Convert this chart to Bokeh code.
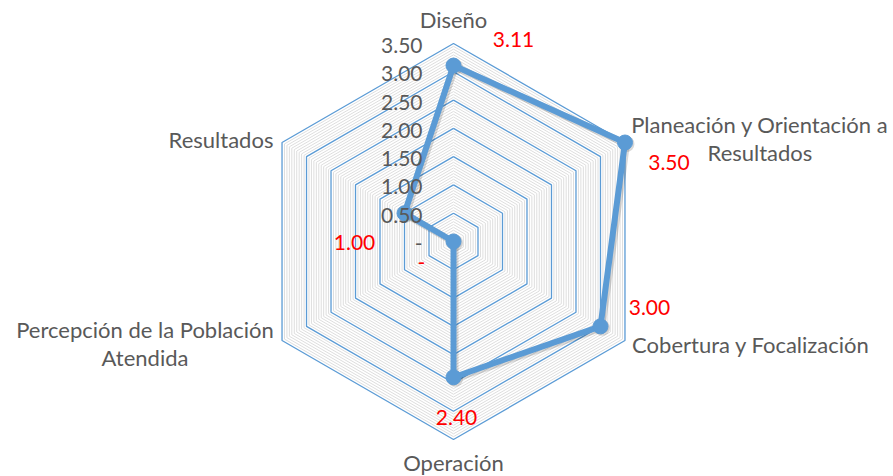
import numpy as np
from bokeh.plotting import figure
from bokeh.models import Range1d
from bokeh.core.properties import value
from bokeh.embed import file_html
from bokeh.resources import INLINE

# ---- data ----
categories = ["Diseño", "Planeación y Orientación a\nResultados", "Cobertura y Focalización",
              "Operación", "Percepción de la Población\nAtendida", "Resultados"]
scores = [3.11, 3.50, 3.00, 2.40, 0.00, 1.00]
tick_values = [0.0, 0.5, 1.0, 1.5, 2.0, 2.5, 3.0, 3.5]
tick_labels = ["-", "0.50", "1.00", "1.50", "2.00", "2.50", "3.00", "3.50"]
r_max = 3.5
major_step = 0.5
minor_step = 0.05

# ---- layout / style constants ----
W, H = 893, 476
S = 198 / r_max            # pixels per unit of score
CX, CY = 453, 241          # chart centre in frame pixels (from left/top)
FONT = "Lato"
BLUE = "#5B9BD5"
GRAY_TXT = "#595959"

# pixel offsets (dx right, dy down) of data labels from their points
data_label_off = [(60, -26), (44, 20), (49, -19), (3, 40), (-32, 21), (-50, 29)]
# pixel offsets of category labels from outer vertex
cat_label_off = [(0, -24), (135, -4), (126, 4), (0, 23), (-137, 3), (-61, -3)]

n = len(categories)
ang = np.deg2rad(90 - 60 * np.arange(n))
ux, uy = np.cos(ang), np.sin(ang)

p = figure(width=W, height=H, output_backend="svg", toolbar_location=None,
           x_range=Range1d(-CX / S, (W - CX) / S), y_range=Range1d(-(H - CY) / S, CY / S),
           x_axis_location=None, y_axis_location=None, min_border=0)
p.grid.visible = False
p.outline_line_color = None
p.background_fill_color = "white"
p.border_fill_color = "white"

def hexagon(r):
    return list(np.append(r * ux, r * ux[0])), list(np.append(r * uy, r * uy[0]))

# minor grid
mxs, mys = [], []
k = 1
while k * minor_step < r_max - 1e-9:
    r = k * minor_step
    if abs(r / major_step - round(r / major_step)) > 1e-6:
        x, y = hexagon(r)
        mxs.append(x); mys.append(y)
    k += 1
p.multi_line(mxs, mys, line_color="#DEDEDE", line_width=1)

# major grid
Mxs, Mys = [], []
for t in tick_values[1:]:
    x, y = hexagon(t)
    Mxs.append(x); Mys.append(y)
p.multi_line(Mxs, Mys, line_color=BLUE, line_width=1.3)

# series
vals = np.array(scores)
px, py = vals * ux, vals * uy
sx, sy = list(np.append(px, px[0])), list(np.append(py, py[0]))
p.line([v + 1.5 / S for v in sx], [v - 1.5 / S for v in sy], line_color="black",
       line_alpha=0.15, line_width=7, line_join="round")
p.scatter(px + 1.5 / S, py - 1.5 / S, size=16, fill_color="black", fill_alpha=0.15, line_color=None)
p.line(sx, sy, line_color=BLUE, line_width=6, line_join="round")
p.scatter(px, py, size=15, fill_color=BLUE, line_color=BLUE)

# radial tick labels
p.text(x=[-31 / S] * len(tick_values), y=[t - 2 / S for t in tick_values], text=tick_labels,
       text_align="right", text_baseline="middle", text_font=value(FONT),
       text_font_size="21px", text_color=GRAY_TXT)

# data labels
dl_text = ["-" if v == 0 else f"{v:.2f}" for v in scores]
dlx = [px[i] + data_label_off[i][0] / S for i in range(n)]
dly = [py[i] - data_label_off[i][1] / S for i in range(n)]
p.text(x=dlx, y=dly, text=dl_text, text_align="center", text_baseline="middle",
       text_font=value(FONT), text_font_size="21px", text_color="#FF0000")

# category labels
clx = [r_max * ux[i] + cat_label_off[i][0] / S for i in range(n)]
cly = [r_max * uy[i] - cat_label_off[i][1] / S for i in range(n)]
p.text(x=clx, y=cly, text=categories, text_align="center", text_baseline="middle",
       text_font=value(FONT), text_font_size="22px", text_color=GRAY_TXT,
       text_line_height=1.02)

open("out.html", "w").write(file_html(p, INLINE))
